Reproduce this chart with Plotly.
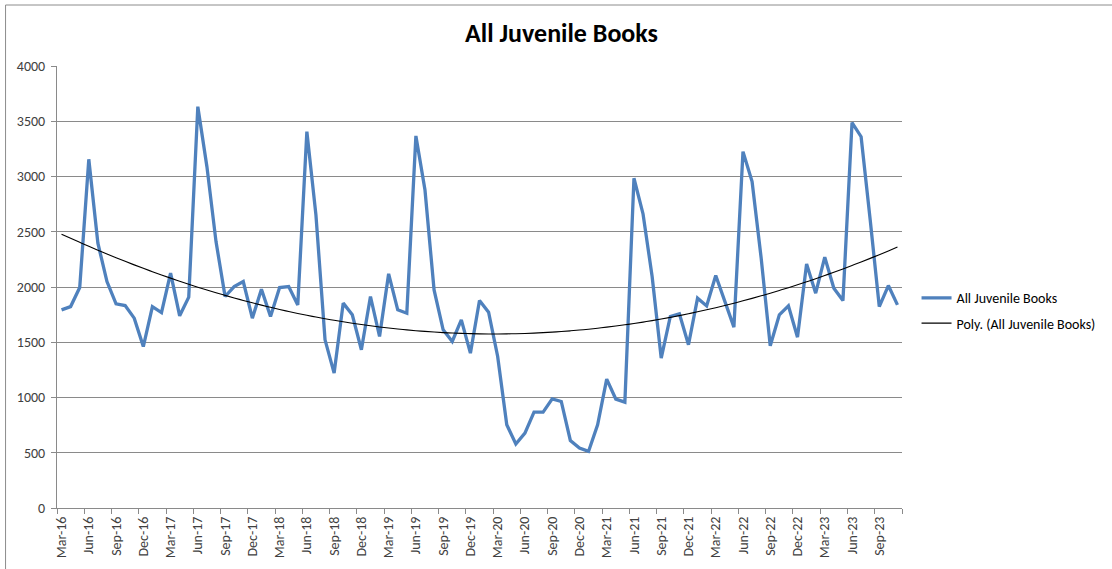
import numpy as np
import plotly.graph_objects as go

# Monthly sales, Mar-16 .. Nov-23
months = [f"{m}-{y:02d}" for y in range(16, 24)
          for m in ["Jan", "Feb", "Mar", "Apr", "May", "Jun",
                    "Jul", "Aug", "Sep", "Oct", "Nov", "Dec"]][2:-1]

juvenile_books = [
    1793, 1823, 1995, 3156, 2396, 2049, 1847, 1832, 1718, 1461,
    1823, 1769, 2125, 1739, 1908, 3632, 3089, 2411, 1914, 2004,
    2049, 1718, 1980, 1733, 1995, 2004, 1838, 3406, 2650, 1522,
    1221, 1854, 1748, 1432, 1914, 1552, 2119, 1793, 1763, 3367,
    2878, 1974, 1612, 1507, 1703, 1401, 1877, 1772, 1371, 753,
    579, 678, 868, 868, 988, 964, 611, 542, 512, 753,
    1166, 986, 958, 2984, 2661, 2095, 1356, 1733, 1757, 1477,
    1899, 1829, 2104, 1860, 1637, 3225, 2954, 2261, 1468, 1748,
    1829, 1546, 2209, 1944, 2270, 1989, 1877, 3487, 3360, 2607,
    1823, 2013, 1838,
]

series_name = "All Juvenile Books"
trend_name = "Poly. (All Juvenile Books)"
title_text = "All Juvenile Books"

n = len(juvenile_books)
idx = np.arange(n)

# second-order polynomial trendline fitted to the series
coef = np.polyfit(idx + 1, juvenile_books, 2)
trend = np.polyval(coef, idx + 1)

label_pos = list(range(0, n, 3))
label_text = [months[i] for i in label_pos]
boundaries = [i - 0.5 for i in range(0, n + 1, 3)]

grid = "#8a8a8a"
font_family = "Calibri, Carlito, Lato, sans-serif"

fig = go.Figure()
fig.add_trace(go.Scatter(
    x=idx, y=juvenile_books, mode="lines", name=series_name,
    legendgroup="a", line=dict(color="#4F81BD", width=3.3),
))
fig.add_trace(go.Scatter(
    x=idx, y=trend, mode="lines", name=trend_name,
    legendgroup="b", line=dict(color="#000000", width=1.1, shape="spline"),
))
# carrier for the boundary tick axis
fig.add_trace(go.Scatter(
    x=[-0.5], y=[0], mode="lines", xaxis="x2", showlegend=False,
    hoverinfo="skip", line=dict(color="rgba(0,0,0,0)"),
))

fig.update_layout(
    width=1112, height=569,
    margin=dict(l=57, r=209, t=66, b=61),
    paper_bgcolor="white", plot_bgcolor="white",
    font=dict(family=font_family, size=14, color="#404040"),
    title=dict(text=f"<b>{title_text}</b>", x=(465 + 658) / 2 / 1112,
               xanchor="center", y=1 - 33 / 569, yanchor="middle",
               font=dict(size=26, color="#000000", family=font_family)),
    xaxis=dict(
        range=[-0.5, n - 0.5], tickmode="array", tickvals=label_pos,
        ticktext=label_text, tickangle=-90, ticks="", showgrid=False,
        zeroline=False, showline=True, linecolor=grid, linewidth=1,
        tickfont=dict(size=14, color="#404040"), ticklabelstandoff=2,
    ),
    xaxis2=dict(
        range=[-0.5, n - 0.5], overlaying="x", anchor="y", side="bottom",
        tickmode="array", tickvals=boundaries, ticks="outside",
        ticklen=5, tickcolor=grid, showticklabels=False, showgrid=False,
        zeroline=False, showline=False,
    ),
    yaxis=dict(
        range=[0, 4000], dtick=500, tick0=0, showgrid=True, gridcolor=grid,
        gridwidth=1, zeroline=False, showline=True, linecolor=grid,
        ticks="outside", ticklen=5, tickcolor=grid, ticklabelstandoff=3,
        tickfont=dict(size=14, color="#404040"),
    ),
    legend=dict(
        x=1.016, xanchor="left", y=0.446, yanchor="middle",
        font=dict(size=14, color="#000000"), bgcolor="rgba(0,0,0,0)",
        traceorder="grouped", tracegroupgap=4, borderwidth=0,
    ),
    showlegend=True,
    shapes=[dict(type="rect", xref="paper", yref="paper",
                 x0=-51.5 / 846, x1=1.35, y0=-0.3, y1=1 + 61 / 442,
                 line=dict(color="#8c8c8c", width=1))],
)

fig.write_html("out.html")
